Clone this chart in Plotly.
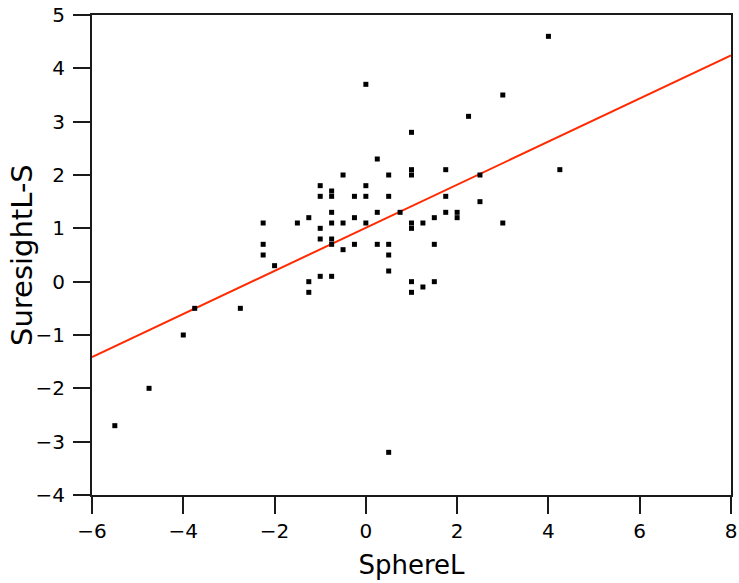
import numpy as np
import plotly.graph_objects as go

sphere_l = [-5.5, -4.75, -4.0, -3.75, -2.75,
            -2.25, -2.25, -2.25, -2.0, -1.5,
            -1.25, -1.25, -1.25,
            -1.0, -1.0, -1.0, -1.0, -1.0,
            -0.75, -0.75, -0.75, -0.75, -0.75, -0.75, -0.75,
            -0.5, -0.5, -0.5,
            -0.25, -0.25, -0.25,
            0.0, 0.0, 0.0, 0.0,
            0.25, 0.25, 0.25,
            0.5, 0.5, 0.5, 0.5, 0.5, 0.5,
            0.75,
            1.0, 1.0, 1.0, 1.0, 1.0, 1.0, 1.0,
            1.25, 1.25,
            1.5, 1.5, 1.5,
            1.75, 1.75, 1.75,
            2.0, 2.0,
            2.25,
            2.5, 2.5,
            3.0, 3.0,
            4.0, 4.25]
suresight_ls = [-2.7, -2.0, -1.0, -0.5, -0.5,
                1.1, 0.7, 0.5, 0.3, 1.1,
                1.2, 0.0, -0.2,
                1.8, 1.6, 1.0, 0.8, 0.1,
                1.7, 1.6, 1.3, 1.1, 0.8, 0.7, 0.1,
                2.0, 1.1, 0.6,
                1.6, 1.2, 0.7,
                3.7, 1.8, 1.6, 1.1,
                2.3, 1.3, 0.7,
                2.0, 1.6, 0.7, 0.5, 0.2, -3.2,
                1.3,
                2.8, 2.1, 2.0, 1.1, 1.0, 0.0, -0.2,
                1.1, -0.1,
                1.2, 0.7, 0.0,
                2.1, 1.6, 1.3,
                1.3, 1.2,
                3.1,
                2.0, 1.5,
                3.5, 1.1,
                4.6, 2.1]

x_ticks = [-6, -4, -2, 0, 2, 4, 6, 8]
y_ticks = [-4, -3, -2, -1, 0, 1, 2, 3, 4, 5]
x_range = [-6, 8]
y_range = [-4, 5]
x_title = "SphereL"
y_title = "SuresightL-S"

# least-squares fit line
slope, intercept = np.polyfit(sphere_l, suresight_ls, 1)
fit_x = np.array(x_range, dtype=float)
fit_y = intercept + slope * fit_x

fig = go.Figure()
fig.add_trace(go.Scatter(x=fit_x, y=fit_y, mode="lines",
                         line=dict(color="#ff2a00", width=2),
                         hoverinfo="skip", showlegend=False))
fig.add_trace(go.Scatter(x=sphere_l, y=suresight_ls, mode="markers",
                         marker=dict(symbol="square", size=5, color="black",
                                     line=dict(width=0)),
                         showlegend=False))

axis_common = dict(showgrid=False, zeroline=False, showline=True, mirror=True,
                   linecolor="#1a1a1a", linewidth=2,
                   ticks="outside", ticklen=17, tickwidth=2, tickcolor="#1a1a1a",
                   ticklabeloverflow="allow", automargin=False,
                   tickfont=dict(family="DejaVu Sans", size=20, color="black"))

fig.update_xaxes(range=x_range, tickvals=x_ticks, **axis_common,
                 title=dict(text=x_title, standoff=14,
                            font=dict(family="DejaVu Sans", size=26, color="black")))
fig.update_yaxes(range=y_range, tickvals=y_ticks, **axis_common,
                 ticklabelstandoff=4)

# y-axis title as a rotated annotation so it can sit slightly in from the edge
fig.add_annotation(text=y_title, textangle=-90, showarrow=False,
                   xref="paper", yref="paper", x=0, y=0.5,
                   xanchor="center", yanchor="middle", xshift=-70,
                   font=dict(family="DejaVu Sans", size=29, color="black"))

fig.update_layout(width=739, height=583,
                  margin=dict(l=92, r=8, t=15, b=88),
                  paper_bgcolor="white", plot_bgcolor="white")

# remove the default page margin so the figure fills the window exactly
fig.write_html("out.html",
               config={"displayModeBar": False},
               post_script="document.body.style.margin='0';document.body.style.overflow='hidden';")
